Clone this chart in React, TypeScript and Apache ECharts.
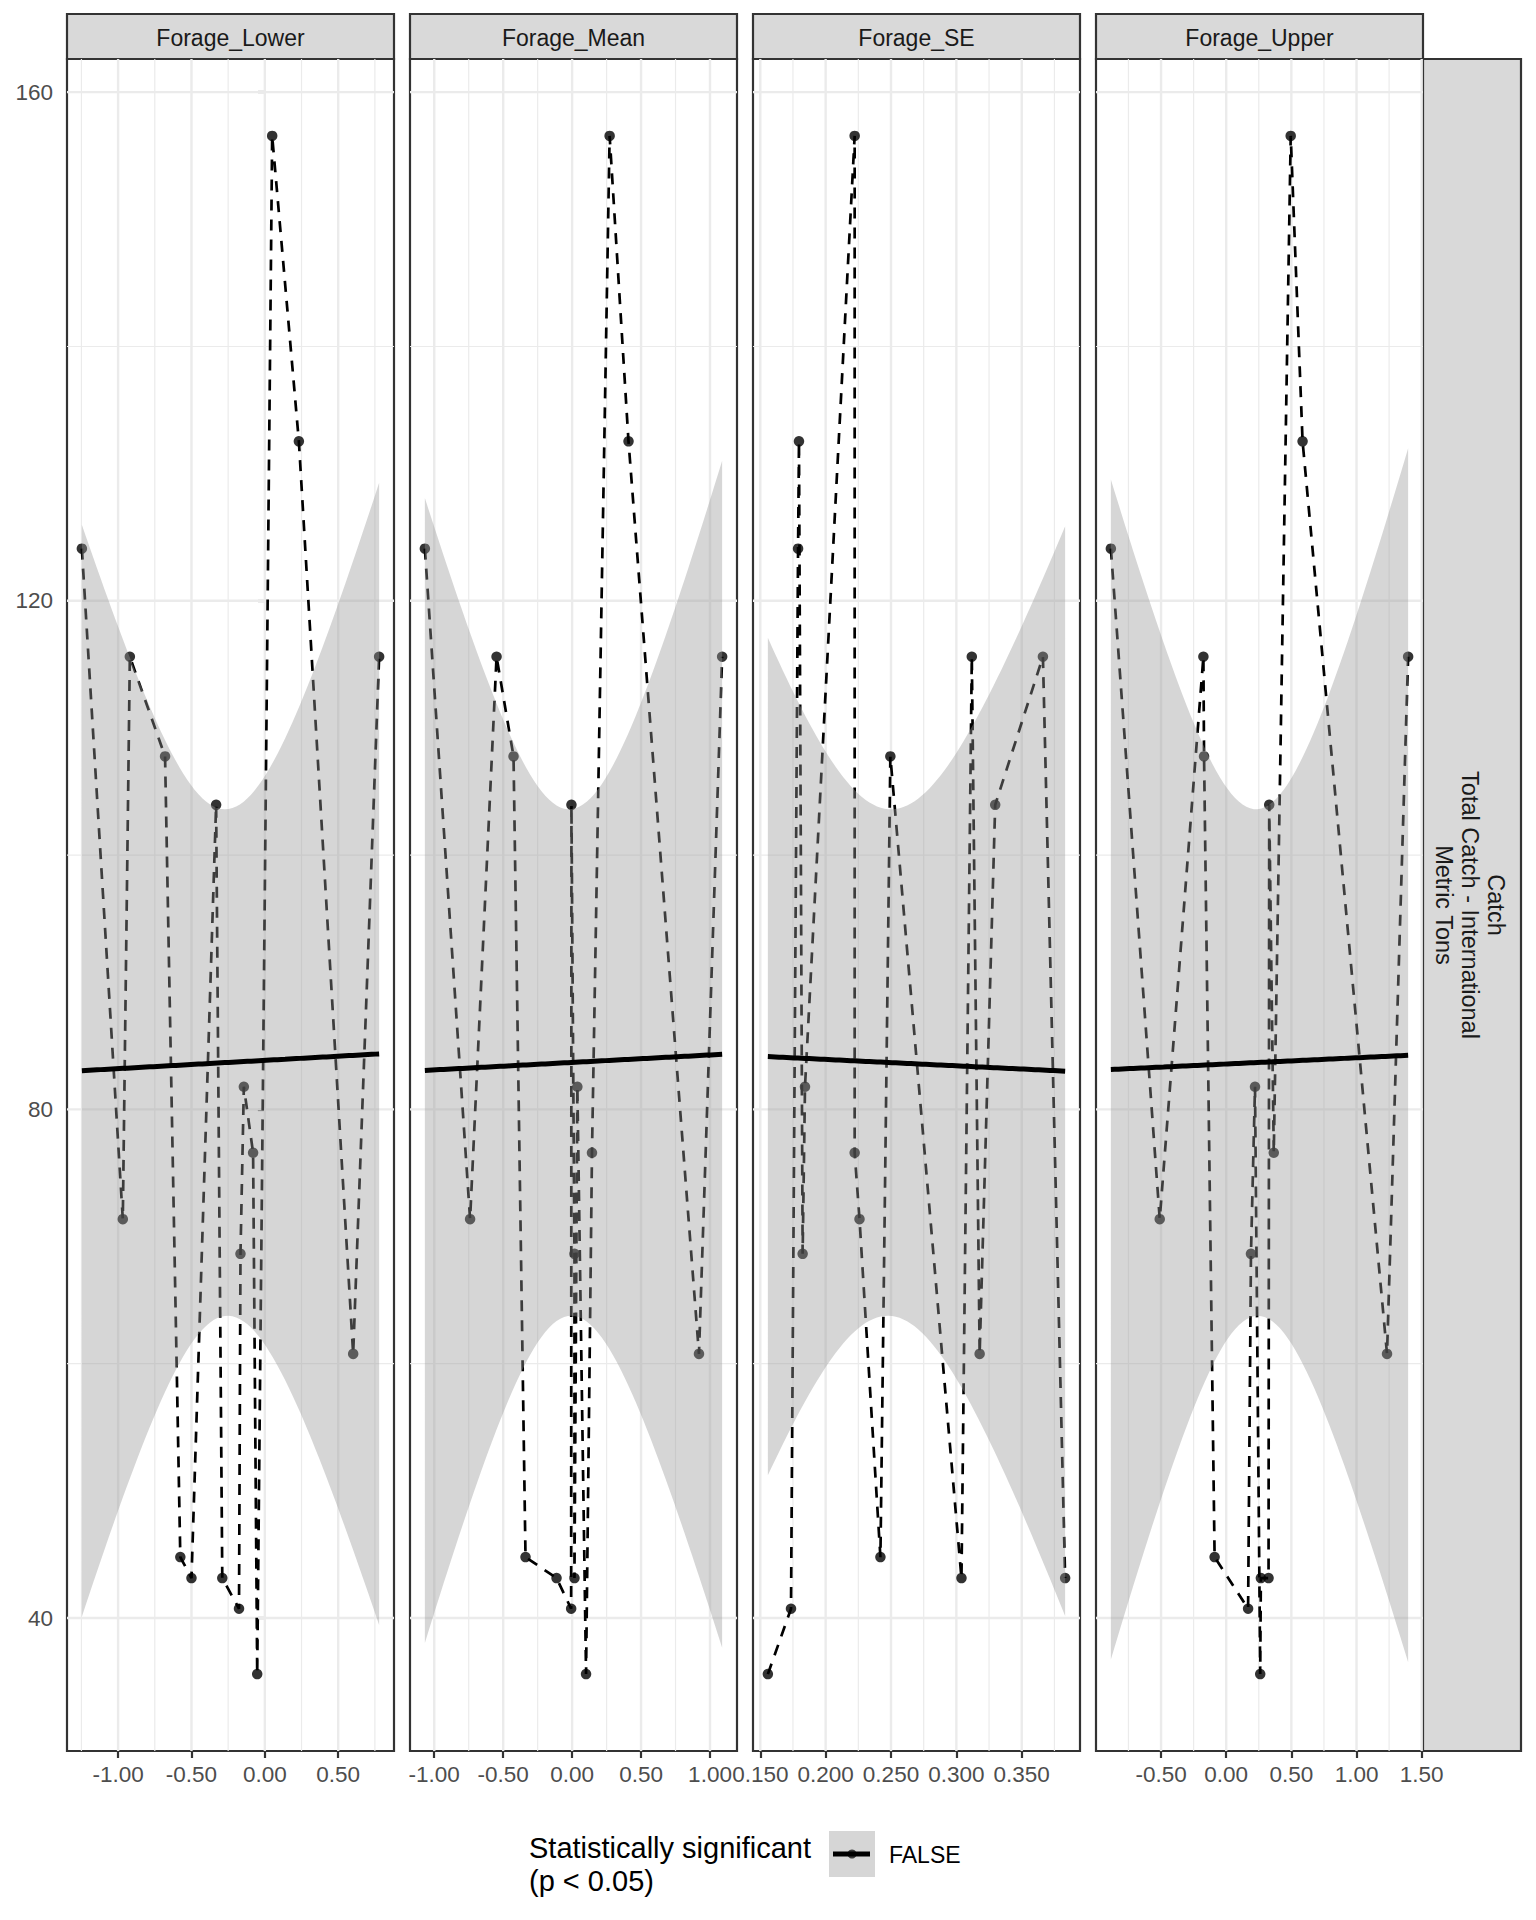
import React, { useEffect, useRef } from "react";
import * as echarts from "echarts";

// ---------- data ----------
const facetNames = ["Forage_Lower", "Forage_Mean", "Forage_SE", "Forage_Upper"];
const rowStripLines = ["Catch", "Total Catch - International", "Metric Tons"];
const legendTitle = ["Statistically significant", "(p < 0.05)"];
const legendLabel = "FALSE";

const catchTons = [156.56, 132.54, 124.1, 115.6, 115.6, 107.76, 103.95, 81.78, 76.59, 71.37, 68.64, 60.77, 44.79, 43.14, 43.14, 40.73, 35.59];
const forageLower = [0.05, 0.232, -1.247, -0.92, 0.779, -0.68, -0.332, -0.143, -0.08, -0.968, -0.166, 0.602, -0.576, -0.5, -0.29, -0.176, -0.052];
const forageMean = [0.272, 0.409, -1.068, -0.548, 1.088, -0.425, -0.005, 0.038, 0.144, -0.74, 0.017, 0.92, -0.338, -0.113, 0.017, -0.007, 0.101];
const forageSE = [0.2222, 0.1796, 0.1789, 0.3662, 0.3118, 0.2495, 0.3297, 0.1842, 0.2222, 0.2259, 0.1824, 0.3178, 0.2419, 0.3832, 0.3039, 0.1735, 0.1558];
const forageUpper = [0.495, 0.586, -0.885, -0.175, 1.396, -0.17, 0.33, 0.221, 0.365, -0.51, 0.19, 1.234, -0.089, 0.266, 0.325, 0.168, 0.261];

const xMajorTicks = [
  [-1, -0.5, 0, 0.5],
  [-1, -0.5, 0, 0.5, 1],
  [0.15, 0.2, 0.25, 0.3, 0.35],
  [-0.5, 0, 0.5, 1, 1.5],
];
const xMinorTicks = [
  [-1.25, -0.75, -0.25, 0.25, 0.75],
  [-0.75, -0.25, 0.25, 0.75],
  [0.175, 0.225, 0.275, 0.325, 0.375],
  [-0.75, -0.25, 0.25, 0.75, 1.25],
];
const xTickDigits = [2, 2, 3, 2];
const yMajorTicks = [40, 80, 120, 160];
const yMinorTicks = [60, 100, 140];

// ---------- layout ----------
const FONT = "'Liberation Sans', Arial, sans-serif";
const PANEL_LEFT = [67, 410, 753, 1096];
const PANEL_W = 327;
const PANEL_TOP = 59;
const PANEL_H = 1692;
const STRIP_TOP = 14;
const RIGHT_STRIP_W = 98;
const BORDER = "#333333";
const STRIP_FILL = "#d9d9d9";
const T_975_15 = 2.131449545559323; // qt(0.975, df = 15)

function lmFit(xs: number[], ys: number[]) {
  const n = xs.length;
  const xbar = xs.reduce((a, b) => a + b, 0) / n;
  const ybar = ys.reduce((a, b) => a + b, 0) / n;
  let sxx = 0;
  let sxy = 0;
  for (let i = 0; i < n; i++) {
    sxx += (xs[i] - xbar) ** 2;
    sxy += (xs[i] - xbar) * (ys[i] - ybar);
  }
  const b = sxy / sxx;
  const a = ybar - b * xbar;
  let sse = 0;
  for (let i = 0; i < n; i++) sse += (ys[i] - (a + b * xs[i])) ** 2;
  const s = Math.sqrt(sse / (n - 2));
  const lo = Math.min(...xs);
  const hi = Math.max(...xs);
  const fit: number[][] = [];
  const upper: number[][] = [];
  const lower: number[][] = [];
  const N = 80;
  for (let k = 0; k < N; k++) {
    const x = lo + ((hi - lo) * k) / (N - 1);
    const yhat = a + b * x;
    const se = s * Math.sqrt(1 / n + (x - xbar) ** 2 / sxx);
    fit.push([x, yhat]);
    upper.push([x, yhat + T_975_15 * se]);
    lower.push([x, yhat - T_975_15 * se]);
  }
  return { fit, upper, lower, xbar, ybar };
}

function expand(lo: number, hi: number) {
  const d = (hi - lo) * 0.05;
  return [lo - d, hi + d];
}

export default function App() {
  const ref = useRef<HTMLDivElement>(null);

  useEffect(() => {
    if (!ref.current) return;
    const chart = echarts.init(ref.current, undefined, { renderer: "svg" });

    const xsAll = [forageLower, forageMean, forageSE, forageUpper];
    const fits = xsAll.map((xs) => lmFit(xs, catchTons));

    let yLoData = Math.min(...catchTons);
    let yHiData = Math.max(...catchTons);
    fits.forEach((f) => {
      f.lower.forEach((p) => (yLoData = Math.min(yLoData, p[1])));
      f.upper.forEach((p) => (yHiData = Math.max(yHiData, p[1])));
    });
    const [yMin, yMax] = expand(yLoData, yHiData);

    const grids: any[] = [];
    const xAxes: any[] = [];
    const yAxes: any[] = [];
    const series: any[] = [];
    const graphics: any[] = [];

    xsAll.forEach((xs, i) => {
      const [xMin, xMax] = expand(Math.min(...xs), Math.max(...xs));
      const f = fits[i];
      grids.push({
        left: PANEL_LEFT[i],
        top: PANEL_TOP,
        width: PANEL_W,
        height: PANEL_H,
        show: true,
        backgroundColor: "#ffffff",
        borderColor: BORDER,
        borderWidth: 2.2,
        containLabel: false,
      });
      const digits = xTickDigits[i];
      xAxes.push({
        type: "value",
        gridIndex: i,
        min: xMin,
        max: xMax,
        axisLine: { show: false },
        axisTick: {
          show: true,
          customValues: xMajorTicks[i],
          length: 7,
          lineStyle: { color: BORDER, width: 2.2 },
        },
        axisLabel: {
          show: true,
          customValues: xMajorTicks[i],
          formatter: (v: number) => Number(v).toFixed(digits),
          color: "#4d4d4d",
          fontSize: 22.5,
          fontFamily: FONT,
          margin: 12,
        },
        splitLine: { show: false },
      });
      yAxes.push({
        type: "value",
        gridIndex: i,
        min: yMin,
        max: yMax,
        axisLine: { show: false },
        axisTick: {
          show: i === 0,
          customValues: yMajorTicks,
          length: 7,
          lineStyle: { color: BORDER, width: 2.2 },
        },
        axisLabel: {
          show: i === 0,
          customValues: yMajorTicks,
          formatter: (v: number) => String(Math.round(v)),
          color: "#4d4d4d",
          fontSize: 22.5,
          fontFamily: FONT,
          margin: 14,
        },
        splitLine: { show: false },
      });

      // grid lines through the axis scales
      const gridData = [
        ...xMajorTicks[i].map((v) => [v, 0, 1]),
        ...xMinorTicks[i].map((v) => [v, 0, 0]),
        ...yMajorTicks.map((v) => [v, 1, 1]),
        ...yMinorTicks.map((v) => [v, 1, 0]),
      ];
      series.push({
        type: "custom",
        xAxisIndex: i,
        yAxisIndex: i,
        silent: true,
        z: 1,
        data: gridData,
        renderItem: (_p: any, api: any) => {
          const v = api.value(0);
          const o = api.value(1);
          const m = api.value(2);
          const p1 = o === 0 ? api.coord([v, yMin]) : api.coord([xMin, v]);
          const p2 = o === 0 ? api.coord([v, yMax]) : api.coord([xMax, v]);
          return {
            type: "line",
            shape: { x1: p1[0], y1: p1[1], x2: p2[0], y2: p2[1] },
            style: { stroke: "#ebebeb", lineWidth: m ? 2.4 : 1.2 },
          };
        },
      });

      const pts = xs.map((x, k) => [x, catchTons[k]]).sort((a, b) => a[0] - b[0]);
      series.push({
        type: "line",
        xAxisIndex: i,
        yAxisIndex: i,
        data: pts,
        symbol: "none",
        silent: true,
        z: 2,
        lineStyle: { color: "#000000", width: 2.7, type: [11, 9] },
      });
      series.push({
        type: "scatter",
        xAxisIndex: i,
        yAxisIndex: i,
        data: pts,
        symbol: "circle",
        symbolSize: 10.5,
        silent: true,
        z: 3,
        itemStyle: { color: "#000000" },
      });
      series.push({
        type: "custom",
        xAxisIndex: i,
        yAxisIndex: i,
        silent: true,
        z: 4,
        data: [[f.xbar, f.ybar]],
        renderItem: (_p: any, api: any) => {
          const poly = f.upper
            .map((p) => api.coord(p))
            .concat(f.lower.slice().reverse().map((p) => api.coord(p)));
          return {
            type: "polygon",
            shape: { points: poly },
            style: { fill: "rgba(153,153,153,0.4)" },
          };
        },
      });
      series.push({
        type: "line",
        xAxisIndex: i,
        yAxisIndex: i,
        data: f.fit,
        symbol: "none",
        silent: true,
        z: 5,
        lineStyle: { color: "#000000", width: 5 },
      });

      // top strip
      graphics.push({
        type: "rect",
        shape: { x: PANEL_LEFT[i], y: STRIP_TOP, width: PANEL_W, height: PANEL_TOP - STRIP_TOP },
        style: { fill: STRIP_FILL, stroke: BORDER, lineWidth: 2.2 },
      });
      graphics.push({
        type: "text",
        x: PANEL_LEFT[i] + PANEL_W / 2,
        y: (STRIP_TOP + PANEL_TOP) / 2 + 1,
        style: {
          text: facetNames[i],
          align: "center",
          verticalAlign: "middle",
          textAlign: "center",
          textVerticalAlign: "middle",
          fontSize: 23,
          fontFamily: FONT,
          fill: "#1a1a1a",
        },
      });
    });

    // right strip
    const rsx = PANEL_LEFT[3] + PANEL_W;
    graphics.push({
      type: "rect",
      shape: { x: rsx, y: PANEL_TOP, width: RIGHT_STRIP_W, height: PANEL_H },
      style: { fill: STRIP_FILL, stroke: BORDER, lineWidth: 2.2 },
    });
    graphics.push({
      type: "text",
      x: rsx + RIGHT_STRIP_W / 2 - 2,
      y: PANEL_TOP + PANEL_H / 2,
      rotation: -Math.PI / 2,
      style: {
        text: rowStripLines.join("\n"),
        align: "center",
        verticalAlign: "middle",
        textAlign: "center",
        textVerticalAlign: "middle",
        fontSize: 23.5,
        lineHeight: 26,
        fontFamily: FONT,
        fill: "#1a1a1a",
      },
    });

    // legend
    graphics.push({
      type: "text",
      x: 529,
      y: 1864,
      style: {
        text: legendTitle.join("\n"),
        align: "left",
        verticalAlign: "middle",
        textAlign: "left",
        textVerticalAlign: "middle",
        fontSize: 29,
        lineHeight: 33,
        fontFamily: FONT,
        fill: "#000000",
      },
    });
    graphics.push({
      type: "rect",
      shape: { x: 829, y: 1831, width: 46, height: 46 },
      style: { fill: "rgba(153,153,153,0.4)" },
    });
    graphics.push({
      type: "circle",
      shape: { cx: 852, cy: 1854, r: 4.5 },
      style: { fill: "#3d3d3d" },
    });
    graphics.push({
      type: "line",
      shape: { x1: 833, y1: 1854, x2: 870, y2: 1854 },
      style: { stroke: "#000000", lineWidth: 5 },
    });
    graphics.push({
      type: "text",
      x: 889,
      y: 1855,
      style: {
        text: legendLabel,
        align: "left",
        verticalAlign: "middle",
        textAlign: "left",
        textVerticalAlign: "middle",
        fontSize: 23,
        fontFamily: FONT,
        fill: "#000000",
      },
    });

    chart.setOption({
      animation: false,
      backgroundColor: "#ffffff",
      grid: grids,
      xAxis: xAxes,
      yAxis: yAxes,
      series,
      graphic: { elements: graphics },
    });

    return () => chart.dispose();
  }, []);

  return (
    <div
      ref={ref}
      style={{ position: "absolute", left: 0, top: 0, width: 1536, height: 1920, background: "#ffffff" }}
    />
  );
}
